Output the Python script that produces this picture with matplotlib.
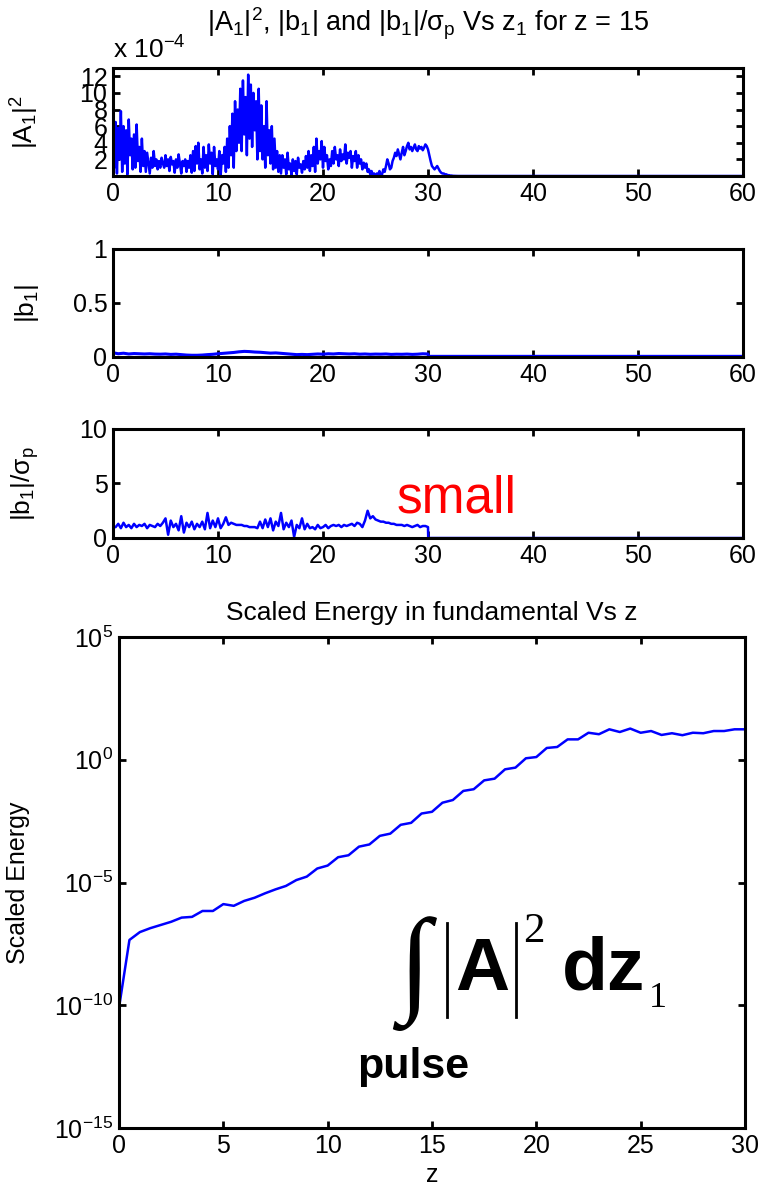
import numpy as np
import matplotlib
matplotlib.use("Agg")
import matplotlib.pyplot as plt
from matplotlib.lines import Line2D

plt.rcParams['font.family'] = ['Liberation Sans', 'DejaVu Sans']
plt.rcParams['mathtext.fontset'] = 'custom'
plt.rcParams['mathtext.rm'] = 'Liberation Sans'
plt.rcParams['mathtext.it'] = 'Liberation Sans'
plt.rcParams['mathtext.default'] = 'regular'

# |A1|^2 (units of 1e-4), sampled every 0.125 in z1 from 0 to 33
a1_step = 0.125
a1_sq = [
    8.2, 1.0, 6.5, 0.3, 5.8, 2.0, 7.8, 0.5,
    6.0, 1.5, 5.5, 0.2, 6.8, 2.5, 4.5, 0.8,
    5.0, 1.0, 6.2, 1.8, 3.5, 0.5, 4.5, 1.2,
    3.0, 0.5, 2.8, 1.5, 0.3, 2.2, 1.0, 3.0,
    1.2, 2.0, 0.8, 1.8, 1.0, 2.2, 1.5, 1.0,
    2.5, 1.2, 2.0, 0.6, 2.3, 1.4, 1.8, 0.4,
    2.0, 1.0, 2.6, 1.5, 0.3, 1.8, 1.2, 2.0,
    0.5, 1.8, 1.0, 2.5, 0.4, 3.0, 0.6, 3.6,
    1.5, 4.0, 0.8, 2.0, 0.3, 3.5, 1.0, 2.5,
    0.6, 3.8, 1.5, 2.8, 0.2, 3.5, 1.2, 2.0,
    0.8, 3.0, 0.0, 2.5, 1.5, 3.5, 0.5, 4.5,
    1.0, 6.0, 2.5, 7.5, 1.0, 9.0, 3.0, 8.0,
    4.0, 10.5, 3.0, 11.5, 5.0, 9.5, 2.5, 12.2,
    4.5, 11.0, 3.5, 10.0, 5.5, 9.0, 2.0, 10.5,
    3.0, 8.5, 2.0, 6.0, 1.0, 9.0, 2.5, 5.5,
    1.5, 6.0, 0.8, 4.5, 1.0, 3.0, 0.5, 2.5,
    0.3, 2.5, 1.0, 2.0, 0.2, 2.8, 0.8, 1.5,
    0.1, 2.0, 0.6, 1.8, 0.2, 2.2, 1.0, 1.4,
    0.4, 1.8, 0.8, 2.4, 1.0, 3.0, 0.6, 2.5,
    1.2, 3.5, 0.5, 4.5, 1.5, 3.0, 2.0, 4.2,
    1.0, 3.5, 1.8, 2.5, 0.8, 2.0, 1.2, 3.0,
    1.5, 3.5, 2.0, 2.5, 1.2, 3.2, 1.8, 2.6,
    2.0, 3.8, 1.5, 2.8, 2.2, 3.0, 1.0, 2.4,
    1.8, 3.0, 1.0, 2.5, 1.5, 2.0, 0.8, 1.6,
    1.0, 1.5, 0.5, 0.8, 0.2, 0.6, 0.1, 0.3,
    0.0, 0.3, 0.1, 0.6, 0.0, 0.2, 0.8, 0.5,
    1.2, 2.0, 1.5, 0.8, 1.0, 1.8, 2.2, 2.8,
    2.4, 3.2, 2.6, 2.0, 2.8, 3.5, 2.5, 3.0,
    3.6, 4.0, 3.2, 3.5, 3.0, 3.4, 3.8, 3.2,
    3.0, 3.6, 3.3, 3.5, 3.1, 3.4, 3.8, 3.6,
    3.2, 2.5, 1.8, 1.2, 1.0, 0.8, 1.0, 1.2,
    0.9, 0.6, 0.4, 0.3, 0.3, 0.2, 0.2, 0.1,
    0.1, 0.05, 0.05, 0.02, 0.02, 0.01, 0.0, 0.0,
]
a1_tail_z = [33.0, 60.0]
a1_tail = [0.0, 0.0]

# |b1|, every 0.5 in z1 from 0 to 30
b1_step = 0.5
b1 = [
    0.040, 0.030, 0.035, 0.028, 0.032, 0.030, 0.028, 0.030, 0.027, 0.026,
    0.028, 0.024, 0.026, 0.022, 0.018, 0.016, 0.016, 0.018, 0.022, 0.025,
    0.030, 0.034, 0.038, 0.042, 0.048, 0.052, 0.050, 0.046, 0.044, 0.040,
    0.036, 0.038, 0.034, 0.030, 0.026, 0.022, 0.024, 0.022, 0.025, 0.028,
    0.026, 0.030, 0.028, 0.032, 0.030, 0.028, 0.030, 0.026, 0.028, 0.025,
    0.027, 0.026, 0.028, 0.024, 0.026, 0.025, 0.027, 0.024, 0.026, 0.030,
    0.028,
]
b1_tail_z = [30.05, 60.0]
b1_tail = [0.006, 0.006]

# |b1|/sigma_p, every 0.25 in z1 from 0 to 30 (after the start value at z1 = 0)
bs_head_z = [0.0]
bs_head = [10.0]
bs_step = 0.25
b1_sigma = [
    1.0, 1.0, 1.3, 0.9, 1.4, 1.0, 1.2, 0.9,
    1.3, 1.0, 1.2, 1.1, 1.3, 0.9, 1.2, 1.1,
    1.0, 1.3, 1.1, 1.4, 1.8, 0.3, 1.6, 1.0,
    1.3, 0.7, 2.0, 0.5, 1.4, 1.0, 1.5, 0.8,
    1.3, 1.0, 1.5, 0.8, 2.3, 0.9, 1.6, 1.0,
    1.8, 0.9, 1.3, 1.9, 1.2, 1.4, 1.3, 1.2,
    1.2, 1.2, 1.1, 1.1, 1.0, 1.0, 1.0, 0.9,
    1.5, 0.9, 1.7, 1.0, 1.8, 0.7, 1.5, 1.1,
    2.3, 0.8, 1.4, 1.0, 1.6, 0.1, 1.2, 0.9,
    1.8, 0.8, 1.3, 0.9, 1.0, 0.8, 1.2, 0.9,
    1.0, 1.2, 0.9, 1.1, 1.2, 1.1, 1.2, 1.0,
    1.2, 1.1, 1.2, 1.3, 1.1, 1.4, 1.3, 1.0,
    1.6, 2.5, 1.8, 2.0, 1.7, 1.6, 1.5, 1.5,
    1.4, 1.4, 1.3, 1.3, 1.2, 1.2, 1.2, 1.1,
    1.2, 1.1, 1.0, 1.1, 1.2, 1.0, 1.1, 1.1,
    1.0,
]
bs_tail_z = [30.02, 60.0]
bs_tail = [0.0, 0.0]

# scaled energy, log10 values every 0.5 in z from 0 to 30
en_step = 0.5
log_energy = [
    -10.1, -7.34, -7.02, -6.86, -6.73, -6.60, -6.43, -6.40, -6.16, -6.16,
    -5.88, -5.95, -5.75, -5.62, -5.44, -5.28, -5.14, -4.90, -4.76, -4.43,
    -4.31, -3.97, -3.89, -3.54, -3.45, -3.10, -3.01, -2.65, -2.57, -2.19,
    -2.12, -1.75, -1.64, -1.27, -1.20, -0.84, -0.77, -0.39, -0.32, 0.06,
    0.11, 0.48, 0.52, 0.83, 0.83, 1.10, 1.04, 1.24, 1.13, 1.27,
    1.10, 1.17, 1.01, 1.08, 1.00, 1.10, 1.08, 1.17, 1.17, 1.24,
    1.24,
]

blue = '#0000ff'
W, H = 764, 1189
fig = plt.figure(figsize=(W / 100, H / 100), dpi=100)


def px_axes(l, t, r, b):
    return fig.add_axes([l / W, 1 - b / H, (r - l) / W, (b - t) / H])


def style(ax):
    for s in ax.spines.values():
        s.set_linewidth(2.2)
    ax.tick_params(direction='in', top=True, right=True, length=5, width=2,
                   labelsize=18, pad=4)
    ax.minorticks_off()


ax1 = px_axes(113, 68, 743, 176)
z1 = np.arange(len(a1_sq)) * a1_step
ax1.plot(np.concatenate([z1, a1_tail_z]), a1_sq + a1_tail, color=blue, lw=1.8)
ax1.set_xlim(0, 60)
ax1.set_ylim(0, 13)
ax1.set_yticks([2, 4, 6, 8, 10, 12])
ax1.set_xticks(range(0, 61, 10))
style(ax1)
ax1.set_ylabel('|A$_1$|$^2$', fontsize=19)
ax1.yaxis.set_label_coords(-0.115, 0.5)

ax2 = px_axes(113, 249, 743, 357)
z2 = np.arange(len(b1)) * b1_step
ax2.plot(np.concatenate([z2, b1_tail_z]), b1 + b1_tail, color=blue, lw=2.2)
ax2.set_xlim(0, 60)
ax2.set_ylim(0, 1)
ax2.set_yticks([0, 0.5, 1])
ax2.set_yticklabels(['0', '0.5', '1'])
ax2.set_xticks(range(0, 61, 10))
style(ax2)
ax2.set_ylabel('|b$_1$|', fontsize=19)
ax2.yaxis.set_label_coords(-0.115, 0.5)

ax3 = px_axes(113, 429, 743, 538)
z3 = np.arange(len(b1_sigma)) * bs_step
ax3.plot(np.concatenate([bs_head_z, z3, bs_tail_z]), bs_head + b1_sigma + bs_tail,
         color=blue, lw=1.8)
ax3.set_xlim(0, 60)
ax3.set_ylim(0, 10)
ax3.set_yticks([0, 5, 10])
ax3.set_xticks(range(0, 61, 10))
style(ax3)
ax3.set_ylabel('|b$_1$|/σ$_p$', fontsize=19)
ax3.yaxis.set_label_coords(-0.115, 0.5)
ax3.text(27, 2.35, 'small', color='red', fontsize=37)

ax4 = px_axes(119, 637, 745, 1128)
z4 = np.arange(len(log_energy)) * en_step
ax4.semilogy(z4, 10.0 ** np.array(log_energy), color=blue, lw=1.8)
ax4.set_xlim(0, 30)
ax4.set_ylim(1e-15, 1e5)
ax4.set_yticks([1e-15, 1e-10, 1e-5, 1e0, 1e5])
ax4.set_xticks(range(0, 31, 5))
style(ax4)
ax4.set_ylabel('Scaled Energy', fontsize=18)
ax4.yaxis.set_label_coords(-0.142, 0.5)
ax4.set_xlabel('z', fontsize=18)
ax4.xaxis.set_label_coords(0.5, -0.072)
ax4.set_title('Scaled Energy in fundamental Vs z', fontsize=19, pad=12)

fig.text(428 / W, 1 - 24 / H,
         '|A$_1$|$^2$, |b$_1$| and |b$_1$|/σ$_p$ Vs z$_1$ for z = 15',
         ha='center', va='center', fontsize=19.5)
fig.text(113 / W, 1 - 50 / H, 'x 10$^{-4}$', ha='left', va='center', fontsize=19)

# integral annotation
fig.text(398 / W, 1 - 1000 / H, '∫', family=['Liberation Serif', 'DejaVu Serif'],
         fontsize=84, ha='left', va='baseline')
for xb in (447, 516):
    fig.add_artist(Line2D([xb / W, xb / W], [1 - 923 / H, 1 - 1017 / H],
                          color='black', lw=2))
fig.text(455 / W, 1 - 990 / H, 'A', weight='bold',
         fontsize=54, ha='left', va='baseline')
fig.text(523 / W, 1 - 942 / H, '2', family='Liberation Serif',
         fontsize=31, ha='left', va='baseline')
fig.text(562 / W, 1 - 990 / H, 'dz', weight='bold',
         fontsize=54, ha='left', va='baseline')
fig.text(649 / W, 1 - 1007 / H, '1', family='Liberation Serif',
         fontsize=26, ha='left', va='baseline')
fig.text(357 / W, 1 - 1078 / H, 'pulse', weight='bold',
         fontsize=31, ha='left', va='baseline')

fig.savefig('out.png', dpi=100, facecolor='white')
